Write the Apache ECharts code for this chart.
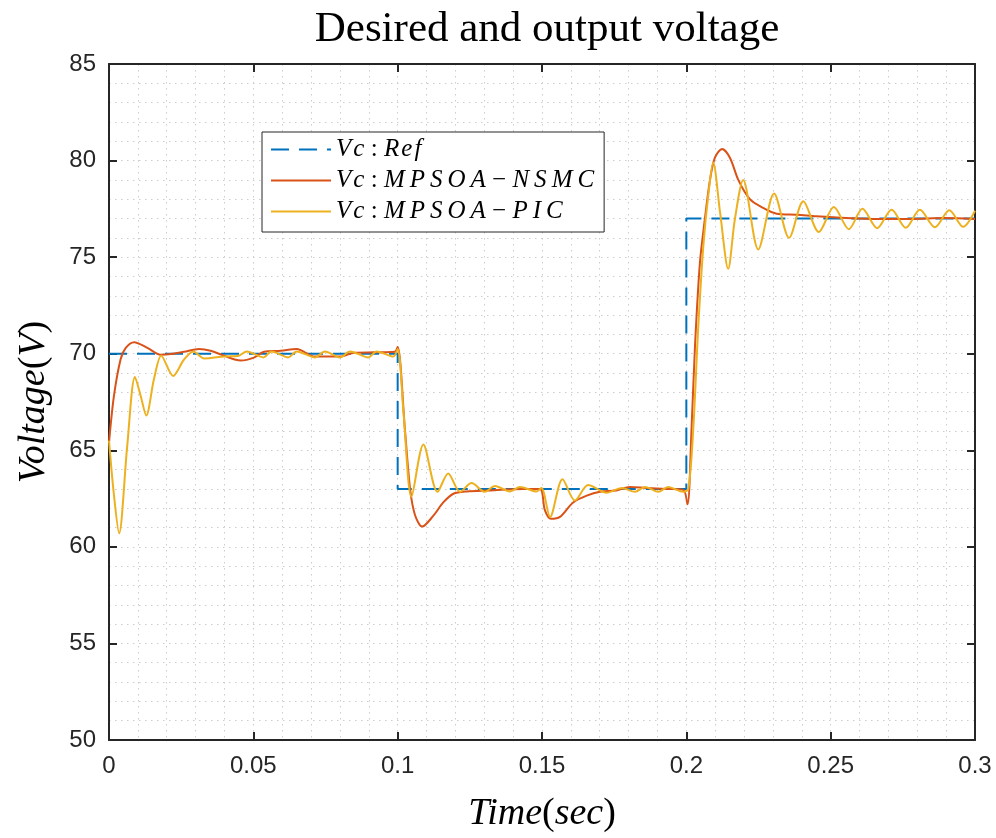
<!DOCTYPE html>
<html>
<head>
<meta charset="utf-8">
<title>Desired and output voltage</title>
<script src="https://cdn.jsdelivr.net/npm/echarts@6/dist/echarts.min.js"></script>
<style>
  html, body { margin: 0; padding: 0; background: #fff; }
  #chart { width: 996px; height: 838px; }
</style>
</head>
<body>
<div id="chart"></div>
<script>
// reference (desired) voltage, step changes
const refT = [0, 0.1, 0.1, 0.2, 0.2, 0.3];
const refV = [70, 70, 63, 63, 77, 77];

// Vc : MPSOA-NSMC
const nsmcT = [0, 0.0017, 0.004, 0.0058, 0.0087, 0.0133, 0.0179, 0.0214, 0.026, 0.0312, 0.0352, 0.0398, 0.0456, 0.0502, 0.0537, 0.0595, 0.065, 0.0713, 0.08, 0.085, 0.092, 0.099,
  0.1, 0.1025, 0.1043, 0.106, 0.1085, 0.1123, 0.1158, 0.1193, 0.1239, 0.132, 0.1435, 0.1493, 0.151, 0.1531, 0.1562, 0.1608, 0.1655, 0.1701, 0.1758, 0.1805, 0.1862, 0.1932, 0.1989,
  0.2004, 0.2018, 0.203, 0.2047, 0.2064, 0.2082, 0.2099, 0.2124, 0.2151, 0.218, 0.222, 0.2266, 0.2313, 0.2382, 0.245, 0.2555, 0.2666, 0.2777, 0.2893, 0.3];
const nsmcV = [65.4, 67.8, 69.7, 70.3, 70.6, 70.3, 69.95, 69.98, 70.1, 70.24, 70.15, 69.9, 69.65, 69.8, 70.1, 70.15, 70.24, 69.85, 69.85, 70.05, 70.07, 70.1,
  70.35, 66.1, 63.0, 61.65, 61.05, 61.6, 62.3, 62.75, 62.87, 62.92, 63.0, 63.0, 61.9, 61.45, 61.55, 62.3, 62.65, 62.85, 62.92, 63.1, 63.05, 63.0, 62.95,
  62.2, 66.1, 70.4, 74.7, 76.95, 79.0, 80.15, 80.6, 80.15, 79.0, 78.0, 77.55, 77.25, 77.2, 77.12, 77.03, 76.98, 76.98, 77.03, 76.98];

// Vc : MPSOA-PIC
const picT = [0, 0.0017, 0.0035, 0.0063, 0.009, 0.011, 0.0129, 0.0156, 0.0181, 0.0222, 0.026, 0.0292, 0.033, 0.040, 0.045, 0.0477, 0.0535, 0.0563, 0.0621, 0.065,
  0.0714, 0.0748, 0.080, 0.0835, 0.0898, 0.0927, 0.0985, 0.1, 0.102, 0.1048, 0.1089, 0.1138, 0.1175, 0.1216, 0.1256, 0.1302, 0.1337, 0.1389, 0.1424, 0.1481,
  0.1498, 0.1528, 0.1571, 0.1614, 0.166, 0.1724, 0.1776, 0.1822, 0.1857, 0.1903, 0.1937, 0.1989, 0.2007, 0.2024, 0.2041, 0.2059, 0.2076, 0.2093, 0.2117, 0.2145,
  0.2168, 0.2197, 0.2249, 0.2304, 0.2356, 0.2405, 0.2459, 0.2511, 0.2563, 0.261, 0.2661, 0.2711, 0.276, 0.2809, 0.2861, 0.2911, 0.2959, 0.3];
const picV = [65.5, 62.7, 60.7, 65.2, 68.8, 67.8, 66.8, 68.7, 69.9, 68.85, 69.7, 70.12, 69.75, 69.86, 69.9, 70.12, 69.81, 70.12, 69.81, 70.12,
  69.81, 70.12, 69.81, 70.12, 69.81, 70.12, 69.85, 70.25, 67.0, 62.6, 65.3, 62.85, 63.8, 62.85, 63.3, 62.85, 63.15, 62.87, 63.1, 62.87,
  63.05, 61.55, 63.5, 62.4, 63.2, 62.8, 63.05, 62.85, 63.1, 62.85, 63.1, 62.85, 63.0, 66.1, 71.3, 75.6, 78.2, 79.9, 77.3, 74.4,
  76.95, 79.0, 75.4, 78.3, 76.0, 77.9, 76.3, 77.6, 76.45, 77.5, 76.5, 77.45, 76.52, 77.45, 76.55, 77.43, 76.57, 77.4];

const xTicks = ['0', '0.05', '0.1', '0.15', '0.2', '0.25', '0.3'];
const yTicks = ['50', '55', '60', '65', '70', '75', '80', '85'];

const seriesNames = ['ref', 'nsmc', 'pic'];
const legendText = {
  ref: '{i|V\u200Ac}{n| : }{i|R\u200Ae\u200Af}',
  nsmc: '{i|V\u200Ac}{n| : }{i|M\u2009P\u2009S\u2009O\u2009A}{n| \u2212 }{i|N\u2009S\u2009M\u2009C}',
  pic: '{i|V\u200Ac}{n| : }{i|M\u2009P\u2009S\u2009O\u2009A}{n| \u2212 }{i|P\u2009I\u2009C}'
};

function pairs(ts, vs) {
  return ts.map((t, i) => [t, vs[i]]);
}

const ink = '#262626';
const gridDots = { color: '#cdcdcd', width: 1, type: [1.5, 4.5] };

const myChart = echarts.init(document.getElementById('chart'));
const option = {
  animation: false,
  backgroundColor: '#fff',
  title: {
    text: 'Desired and output voltage',
    left: 542,
    textAlign: 'center',
    top: 3,
    textStyle: { fontFamily: 'Liberation Serif', fontWeight: 'normal', fontSize: 43, color: '#000' }
  },
  legend: {
    data: seriesNames,
    orient: 'vertical',
    left: 262,
    top: 132,
    itemWidth: 60,
    itemHeight: 14,
    itemGap: 6,
    padding: [5, 10, 8, 8],
    backgroundColor: '#fff',
    borderColor: ink,
    borderWidth: 1,
    itemStyle: { opacity: 0 },
    formatter: (name) => legendText[name],
    textStyle: {
      rich: {
        i: { fontFamily: 'Liberation Serif', fontStyle: 'italic', fontSize: 25, color: '#000', lineHeight: 24 },
        n: { fontFamily: 'Liberation Serif', fontSize: 25, color: '#000', lineHeight: 24 }
      }
    }
  },
  grid: { left: 109, right: 21, top: 64, bottom: 96 },
  xAxis: [{
    type: 'value',
    min: 0,
    max: 0.3,
    interval: 0.05,
    name: '{i|Time}{n|(}{i|sec}{n|)}',
    nameLocation: 'middle',
    nameGap: 55,
    nameTextStyle: {
      rich: {
        i: { fontFamily: 'Liberation Serif', fontStyle: 'italic', fontSize: 38, color: '#000' },
        n: { fontFamily: 'Liberation Serif', fontSize: 38, color: '#000' }
      }
    },
    axisLine: { show: true, onZero: false, lineStyle: { color: ink, width: 2 } },
    axisTick: { inside: true, length: 8, lineStyle: { color: ink, width: 2 } },
    axisLabel: {
      margin: 14,
      fontFamily: 'Liberation Sans',
      fontSize: 24,
      color: ink,
      formatter: (v) => xTicks[Math.round(v / 0.05)]
    },
    splitLine: { show: true, lineStyle: gridDots },
    minorTick: { show: false, splitNumber: 5 },
    minorSplitLine: { show: true, lineStyle: gridDots }
  }, {
    type: 'value',
    position: 'top',
    min: 0,
    max: 0.3,
    interval: 0.05,
    axisLine: { show: true, onZero: false, lineStyle: { color: ink, width: 2 } },
    axisTick: { inside: true, length: 8, lineStyle: { color: ink, width: 2 } },
    axisLabel: { show: false },
    splitLine: { show: false }
  }],
  yAxis: [{
    type: 'value',
    min: 50,
    max: 85,
    interval: 5,
    name: '{i|Voltage}{n|(}{i|V}{n|)}',
    nameLocation: 'middle',
    nameGap: 56,
    nameTextStyle: {
      rich: {
        i: { fontFamily: 'Liberation Serif', fontStyle: 'italic', fontSize: 38, color: '#000' },
        n: { fontFamily: 'Liberation Serif', fontSize: 38, color: '#000' }
      }
    },
    axisLine: { show: true, onZero: false, lineStyle: { color: ink, width: 2 } },
    axisTick: { inside: true, length: 8, lineStyle: { color: ink, width: 2 } },
    axisLabel: {
      margin: 13,
      fontFamily: 'Liberation Sans',
      fontSize: 24,
      color: ink,
      formatter: (v) => yTicks[Math.round((v - 50) / 5)]
    },
    splitLine: { show: true, lineStyle: gridDots },
    minorTick: { show: false, splitNumber: 5 },
    minorSplitLine: { show: true, lineStyle: gridDots }
  }, {
    type: 'value',
    position: 'right',
    min: 50,
    max: 85,
    interval: 5,
    axisLine: { show: true, onZero: false, lineStyle: { color: ink, width: 2 } },
    axisTick: { inside: true, length: 8, lineStyle: { color: ink, width: 2 } },
    axisLabel: { show: false },
    splitLine: { show: false }
  }],
  series: [{
    name: 'ref',
    type: 'line',
    data: pairs(refT, refV),
    symbol: 'none',
    itemStyle: { color: '#0072BD' },
    lineStyle: { color: '#0072BD', width: 2, type: [18, 10] },
    z: 2
  }, {
    name: 'nsmc',
    type: 'line',
    data: pairs(nsmcT, nsmcV),
    symbol: 'none',
    smooth: 0.3,
    itemStyle: { color: '#D95319' },
    lineStyle: { color: '#D95319', width: 2 },
    z: 3
  }, {
    name: 'pic',
    type: 'line',
    data: pairs(picT, picV),
    symbol: 'none',
    smooth: 0.3,
    itemStyle: { color: '#EDB120' },
    lineStyle: { color: '#EDB120', width: 2 },
    z: 4
  }]
};
myChart.setOption(option);
window.addEventListener('resize', () => {
  myChart.resize();
});
</script>
</body>
</html>
